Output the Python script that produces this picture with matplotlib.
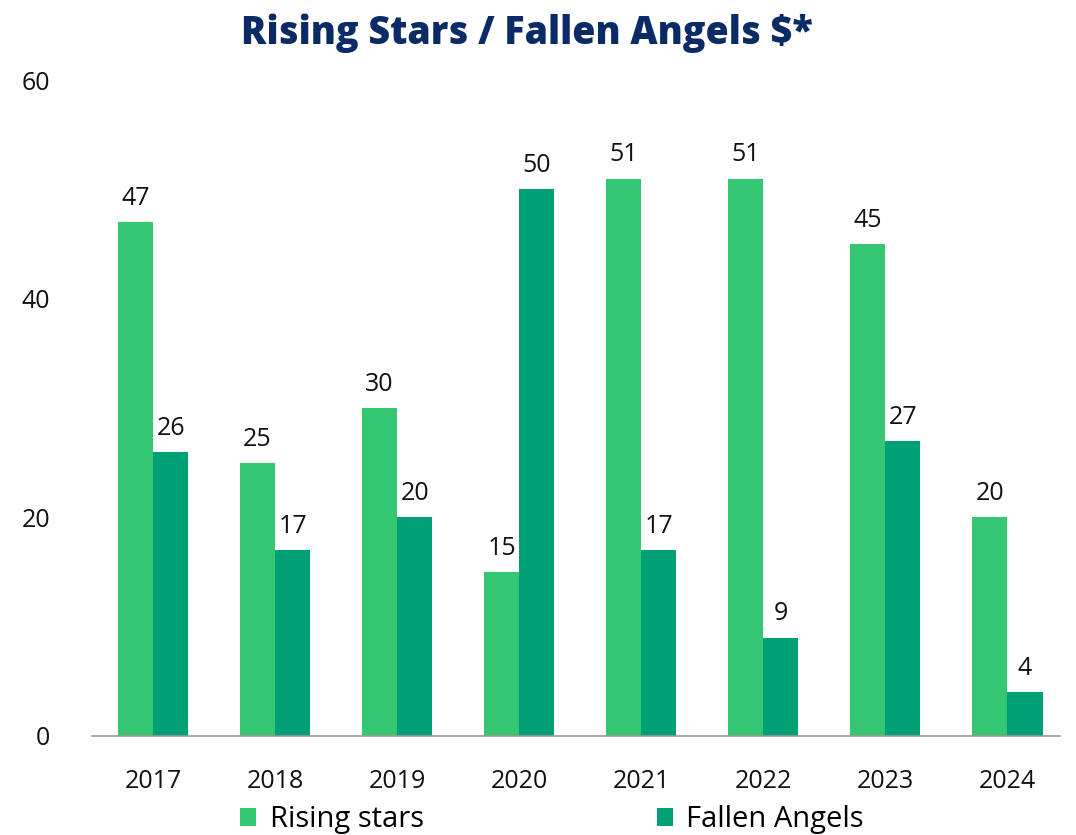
import matplotlib

matplotlib.use("Agg")
import matplotlib.pyplot as plt
import numpy as np

lata = ["2017", "2018", "2019", "2020", "2021", "2022", "2023", "2024"]
rising = [47, 25, 30, 15, 51, 51, 45, 20]
fallen = [26, 17, 20, 50, 17, 9, 27, 4]

kolor_rising = "#34C671"
kolor_fallen = "#00A077"
kolor_tytul = "#0B2B66"

plt.rcParams["font.family"] = ["Open Sans", "DejaVu Sans"]

fig = plt.figure(figsize=(10.76, 8.35), dpi=100)
ax = fig.add_axes([0.0855, 0.1186, 0.8995, 0.7854])

x = np.arange(len(lata))
w = 0.288
b1 = ax.bar(x - w / 2, rising, w, color=kolor_rising, label="Rising stars")
b2 = ax.bar(x + w / 2, fallen, w, color=kolor_fallen, label="Fallen Angels")

for bars in (b1, b2):
    for b in bars:
        ax.annotate(f"{b.get_height():.0f}", (b.get_x() + b.get_width() / 2, b.get_height()),
                    xytext=(0, 8), textcoords="offset points", ha="center", va="bottom",
                    fontsize=18, color="#111111")

ax.set_ylim(0, 60)
ax.set_yticks([0, 20, 40, 60])
ax.set_xlim(-0.5, 7.43)
ax.set_xticks(x)
ax.set_xticklabels(lata)
ax.tick_params(axis="both", length=0, labelsize=18, colors="#111111")
ax.tick_params(axis="x", pad=24)
ax.tick_params(axis="y", pad=30)
for s in ("top", "right", "left"):
    ax.spines[s].set_visible(False)
ax.spines["bottom"].set_color("#999999")
ax.spines["bottom"].set_linewidth(1.2)

fig.text(0.49, 0.96, "Rising Stars / Fallen Angels $*", ha="center", va="center",
         fontsize=27, fontweight="heavy", color=kolor_tytul)

fig.legend(loc="center", bbox_to_anchor=(0.513, 0.018), ncol=2, frameon=False,
           fontsize=21, handlelength=0.55, handleheight=0.6, handletextpad=0.45,
           columnspacing=8.0, borderaxespad=0)

fig.savefig("out.png", dpi=100)
plt.close(fig)
